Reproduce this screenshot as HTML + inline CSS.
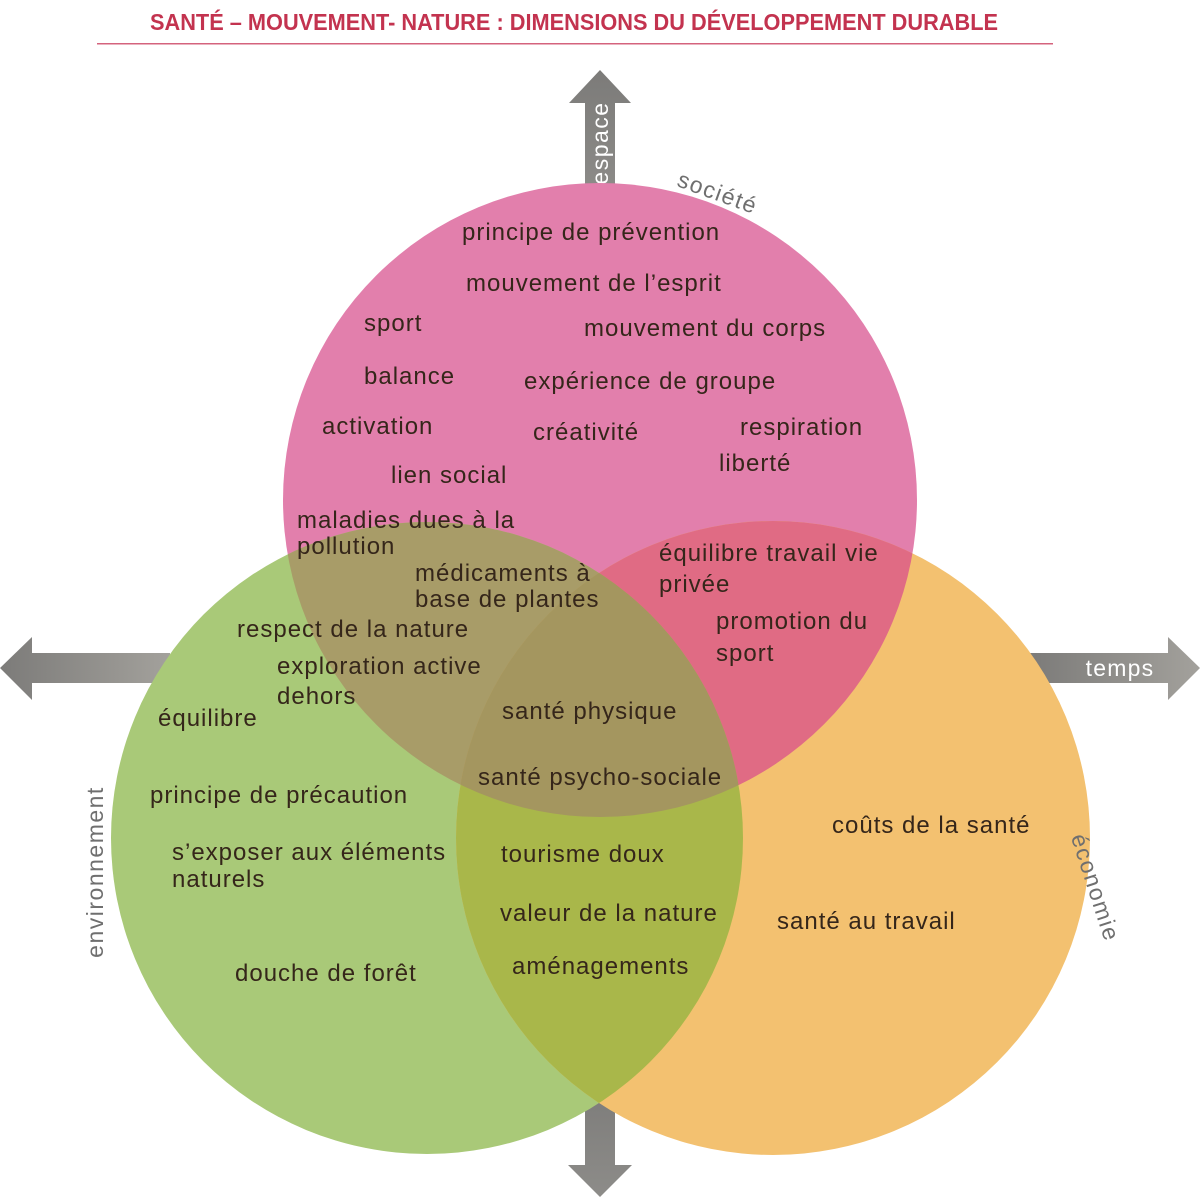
<!DOCTYPE html>
<html><head><meta charset="utf-8"><style>
html,body{margin:0;padding:0;background:#fff;}
svg{display:block;}
text{font-family:"Liberation Sans",sans-serif;}
.t{font-size:24px;fill:#35261a;letter-spacing:1px;}
.l{font-size:23px;fill:#6f6f6f;letter-spacing:1.5px;}
</style></head><body>
<svg width="1200" height="1197" viewBox="0 0 1200 1197" xmlns="http://www.w3.org/2000/svg">
<defs>
<linearGradient id="gh" x1="0" x2="1" y1="0" y2="0"><stop offset="0" stop-color="#7c7b79"/><stop offset="1" stop-color="#a3a19c"/></linearGradient>
<linearGradient id="gv" x1="0" x2="0" y1="0" y2="1"><stop offset="0" stop-color="#7c7b79"/><stop offset="1" stop-color="#8d8c89"/></linearGradient>
<clipPath id="cp"><circle cx="600" cy="500" r="317"/></clipPath>
<clipPath id="cg"><circle cx="427" cy="838" r="316"/></clipPath>
<clipPath id="co"><circle cx="773" cy="838" r="317"/></clipPath>
</defs>
<text x="574" y="30" text-anchor="middle" font-size="23" font-weight="bold" fill="#c3334f" textLength="848" lengthAdjust="spacingAndGlyphs">SANTÉ – MOUVEMENT- NATURE : DIMENSIONS DU DÉVELOPPEMENT DURABLE</text>
<rect x="97" y="43" width="956" height="1.5" fill="#d4637d"/>
<polygon points="600,70 631,103 615,103 615,200 585,200 585,103 569,103" fill="url(#gv)"/>
<polygon points="0,668 32,637 32,653 170,653 170,683 32,683 32,700" fill="url(#gh)"/>
<polygon points="1200,668 1168,637 1168,653 1030,653 1030,683 1168,683 1168,700" fill="url(#gh)"/>
<polygon points="600,1197 632,1165 615,1165 615,1080 585,1080 585,1165 568,1165" fill="url(#gv)"/>
<text x="0" y="0" transform="translate(608,143) rotate(-90)" text-anchor="middle" font-size="23" letter-spacing="1.5" fill="#fff">espace</text>
<text x="1120" y="676" text-anchor="middle" font-size="23" letter-spacing="1.2" fill="#fff">temps</text>
<circle cx="600" cy="500" r="317" fill="#e27fac"/>
<circle cx="427" cy="838" r="316" fill="#a9c978"/>
<circle cx="773" cy="838" r="317" fill="#f3c170"/>
<g clip-path="url(#cp)"><circle cx="427" cy="838" r="316" fill="#a89c68"/><circle cx="773" cy="838" r="317" fill="#e06b84"/></g>
<g clip-path="url(#cg)"><circle cx="773" cy="838" r="317" fill="#a9b74a"/></g>
<g clip-path="url(#cp)"><g clip-path="url(#cg)"><circle cx="773" cy="838" r="317" fill="#a4965f"/></g></g>
<text class="l" transform="translate(715,200) rotate(20)" text-anchor="middle">société</text>
<text class="l" transform="translate(103,872) rotate(-90)" text-anchor="middle">environnement</text>
<text class="l" transform="translate(1088,890) rotate(72)" text-anchor="middle">économie</text>
<g class="t">
<text x="462" y="240">principe de prévention</text>
<text x="466" y="291">mouvement de l’esprit</text>
<text x="364" y="331">sport</text>
<text x="584" y="336">mouvement du corps</text>
<text x="364" y="384">balance</text>
<text x="524" y="389">expérience de groupe</text>
<text x="322" y="434">activation</text>
<text x="533" y="440">créativité</text>
<text x="740" y="435">respiration</text>
<text x="719" y="471">liberté</text>
<text x="391" y="483">lien social</text>
<text x="297" y="528">maladies dues à la</text>
<text x="297" y="554">pollution</text>
<text x="415" y="581">médicaments à</text>
<text x="415" y="607">base de plantes</text>
<text x="659" y="561">équilibre travail vie</text>
<text x="659" y="592">privée</text>
<text x="237" y="637">respect de la nature</text>
<text x="716" y="629">promotion du</text>
<text x="716" y="661">sport</text>
<text x="277" y="674">exploration active</text>
<text x="277" y="704">dehors</text>
<text x="158" y="726">équilibre</text>
<text x="502" y="719">santé physique</text>
<text x="478" y="785">santé psycho-sociale</text>
<text x="150" y="803">principe de précaution</text>
<text x="832" y="833">coûts de la santé</text>
<text x="172" y="860">s’exposer aux éléments</text>
<text x="172" y="887">naturels</text>
<text x="501" y="862">tourisme doux</text>
<text x="500" y="921">valeur de la nature</text>
<text x="777" y="929">santé au travail</text>
<text x="512" y="974">aménagements</text>
<text x="235" y="981">douche de forêt</text>
</g>
</svg>
</body></html>
